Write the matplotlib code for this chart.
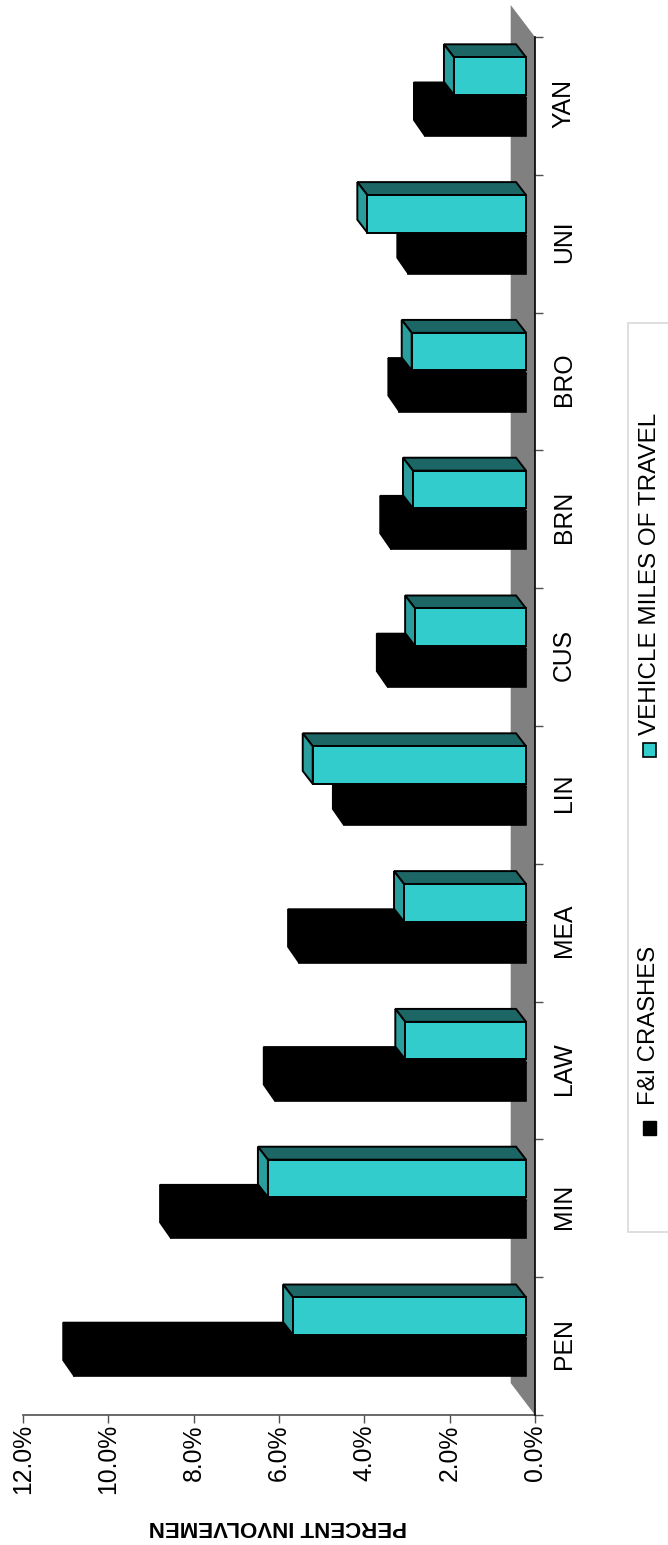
import matplotlib
matplotlib.use("Agg")
import matplotlib.pyplot as plt
from matplotlib.patches import Rectangle

plt.rcParams['font.family'] = ['Liberation Sans', 'DejaVu Sans']

categories = ["PEN", "MIN", "LAW", "MEA", "LIN", "CUS", "BRN", "BRO", "UNI", "YAN"]
crashes = [10.6, 8.33, 5.9, 5.33, 4.28, 3.25, 3.17, 2.98, 2.77, 2.38]
miles = [5.46, 6.05, 2.83, 2.86, 5.0, 2.6, 2.65, 2.68, 3.72, 1.69]
value_ticks = [0, 2, 4, 6, 8, 10, 12]
value_labels = ["0.0%", "2.0%", "4.0%", "6.0%", "8.0%", "10.0%", "12.0%"]

W, H = 668, 1545
fig = plt.figure(figsize=(W / 100, H / 100), dpi=100)
ax = fig.add_axes([23 / W, (H - 1415) / H, 512 / W, 1378 / H])
ax.set_xlim(12, 0)
ax.set_ylim(0, 10)

# floor/wall band
wall_x = 0.57
wall_y = 0.232
ax.fill([0, wall_x, wall_x, 0], [0, wall_y, 10 + wall_y, 10],
        color="#808080", lw=0, zorder=1, clip_on=False)


def bar3d(i, val, y0, y1, dx, dy, base, front, top, side, lw):
    x0 = base
    x1 = base + val
    yb = i + y0
    yt = i + y1
    ax.fill([x0, x1, x1 + dx, x0 + dx], [yt, yt, yt + dy, yt + dy],
            fc=top, ec="black", lw=lw, zorder=3, clip_on=False)
    ax.fill([x1, x1 + dx, x1 + dx, x1], [yb, yb + dy, yt + dy, yt],
            fc=side, ec="black", lw=lw, zorder=3, clip_on=False)
    ax.fill([x0, x1, x1, x0], [yb, yb, yt, yt],
            fc=front, ec="black", lw=lw, zorder=3, clip_on=False)


for i in range(len(categories)):
    bar3d(i, crashes[i], 0.282, 0.555, 0.26, 0.116, 0.2, "black", "black", "black", 1.2)
    bar3d(i, miles[i], 0.58, 0.853, 0.234, 0.094, 0.21, "#33CCCC", "#1C6666", "#2A9D9D", 1.4)

for s in ["top", "left"]:
    ax.spines[s].set_visible(False)
ax.spines["right"].set_color("black")
ax.spines["right"].set_linewidth(1.2)
ax.spines["right"].set_zorder(5)
ax.spines["bottom"].set_color("#505050")
ax.spines["bottom"].set_linewidth(1.2)

ax.set_xticks(value_ticks)
ax.set_xticklabels(value_labels, rotation=90, fontsize=17.8)
ax.tick_params(axis="x", length=5.8, width=1, color="#505050", pad=0.8)

ax.yaxis.tick_right()
ax.set_yticks(range(11))
ax.set_yticklabels([])
ax.tick_params(axis="y", which="major", length=5.8, width=1, color="#505050")
ax.set_yticks([i + 0.515 for i in range(10)], minor=True)
ax.set_yticklabels(categories, minor=True, rotation=90, fontsize=17.8, va="center")
ax.tick_params(axis="y", which="minor", length=0, pad=12)

# overlay in pixel coordinates for title and legend
ov = fig.add_axes([0, 0, 1, 1])
ov.set_xlim(0, W)
ov.set_ylim(H, 0)
ov.axis("off")
ov.patch.set_alpha(0)

ov.text(278, 1526.5, "PERCENT INVOLVEMEN", rotation=180, fontsize=16, fontweight="bold",
        ha="center", va="center")

ov.add_patch(Rectangle((628, 323), 60, 909, fc="white", ec="#D9D9D9", lw=1.2))
ov.add_patch(Rectangle((643, 1121), 13, 14, fc="black", ec="black", lw=1))
ov.add_patch(Rectangle((643, 743), 13, 14, fc="#33CCCC", ec="black", lw=1.2))
ov.text(649, 1105, "F&I CRASHES", rotation=90, fontsize=17.2, ha="center", va="bottom")
ov.text(649.5, 735, "VEHICLE MILES OF TRAVEL", rotation=90, fontsize=17.5, ha="center", va="bottom")

fig.savefig("out.png", dpi=100)
